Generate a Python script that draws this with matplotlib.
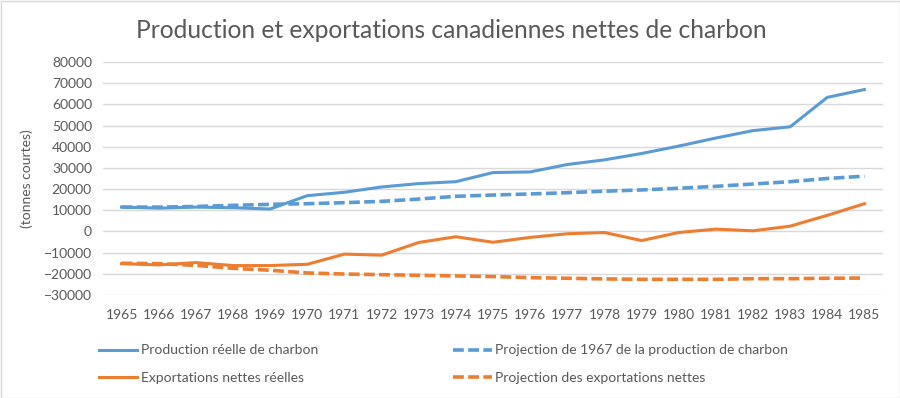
import matplotlib.pyplot as plt
from matplotlib.patches import Rectangle

plt.rcParams['font.family'] = ['Lato', 'DejaVu Sans']

years = [str(y) for y in range(1965, 1986)]

# tonnes courtes
prod_real = [11500, 11000, 11500, 11200, 10600, 16900, 18500, 21000, 22600, 23500,
             27800, 28100, 31600, 33800, 36800, 40300, 44100, 47600, 49400, 63300, 67000]
prod_proj = [11500, 11500, 11800, 12300, 12800, 13100, 13600, 14200, 15300, 16600,
             17200, 17700, 18300, 19000, 19600, 20400, 21300, 22400, 23500, 25000, 26100]
exp_real = [-15200, -15800, -14700, -16100, -16100, -15500, -10700, -11200, -5200, -2500,
            -5100, -2800, -1100, -500, -4300, -500, 1100, 300, 2500, 7600, 13100]
exp_proj = [-15000, -15200, -16000, -17400, -18300, -19600, -20100, -20400, -20700, -21000,
            -21300, -21800, -22100, -22400, -22600, -22600, -22600, -22300, -22300, -22100, -22000]

blue = '#5B9BD5'
orange = '#ED7D31'
grey_txt = '#595959'

fig = plt.figure(figsize=(9, 3.98), dpi=100)
ax = fig.add_axes([103/900, 1 - 295/398, 780/900, (295 - 62)/398])

x = range(len(years))
l1, = ax.plot(x, prod_real, color=blue, lw=2.2, label='Production réelle de charbon')
l2, = ax.plot(x, prod_proj, color=blue, lw=2.6, ls=(0, (3, 1.2)),
              label='Projection de 1967 de la production de charbon')
l3, = ax.plot(x, exp_real, color=orange, lw=2.2, label='Exportations nettes réelles')
l4, = ax.plot(x, exp_proj, color=orange, lw=2.6, ls=(0, (3, 1.2)),
              label='Projection des exportations nettes')

ax.set_xlim(-0.5, len(years) - 0.5)
ax.set_ylim(-30000, 80000)
ax.set_yticks(range(-30000, 80001, 10000))
ax.set_xticks(list(x))
ax.set_xticklabels(years)
ax.grid(True, axis='y', color='#d9d9d9', lw=1)
ax.set_axisbelow(True)
for s in ax.spines.values():
    s.set_visible(False)
ax.tick_params(length=0, labelsize=10, colors=grey_txt, pad=8)
ax.tick_params(axis='x', pad=10)

ax.set_ylabel('(tonnes courtes)', fontsize=10, color=grey_txt, labelpad=8)

fig.suptitle('Production et exportations canadiennes nettes de charbon',
             x=451/900, y=1 - 30/398, va='center', fontsize=17.7, color=grey_txt)

fig.legend(handles=[l1, l3, l2, l4], ncol=2, loc='center left',
           bbox_to_anchor=(86/900, 1 - 364/398), frameon=False, fontsize=10,
           labelcolor=grey_txt, handlelength=2.8, handletextpad=0.25,
           columnspacing=9.7, labelspacing=1.1)

fig.patches.append(Rectangle((0.5/900, 0.5/398), 1 - 1/900, 1 - 1/398,
                             transform=fig.transFigure, fill=False,
                             edgecolor='#d9d9d9', lw=1))

plt.savefig('out.png', dpi=100)
